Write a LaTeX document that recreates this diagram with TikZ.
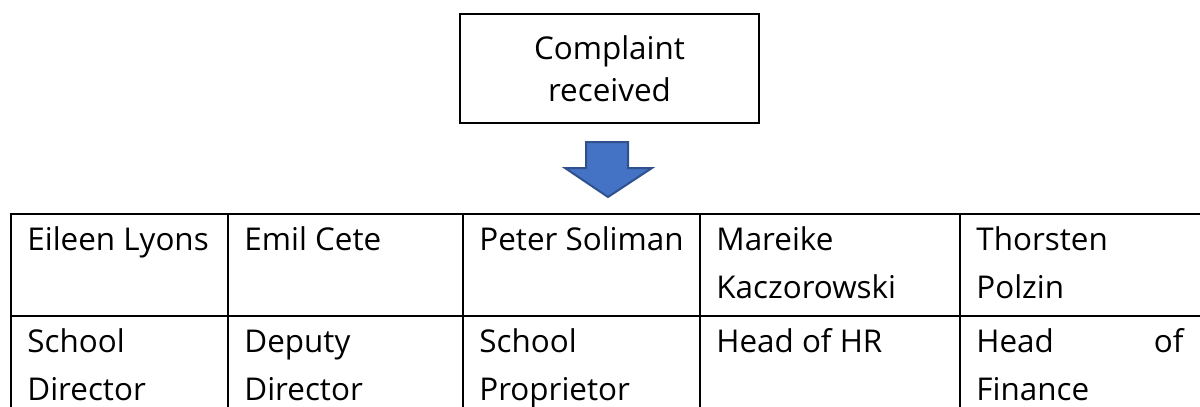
\documentclass[tikz,border=0pt]{standalone}
\usepackage{fontspec}
\setmainfont{Open Sans}
\usetikzlibrary{positioning}
\definecolor{arrowblue}{HTML}{4472C4}
\definecolor{arrowedge}{HTML}{2F528F}
\begin{document}
\begin{tikzpicture}[x=0.5pt, y=-0.5pt, font=\fontsize{15.7}{24}\selectfont]
  \tikzset{
    rulebox/.style={draw, line width=1.2pt},
    cellnode/.style={anchor=base west, inner sep=0pt, align=left},
    blockarrow/.style={draw=arrowedge, fill=arrowblue, line width=1pt, line join=miter},
  }
  \useasboundingbox (0,0) rectangle (1200,407);
  \clip (0,0) rectangle (1200,407);
  % complaint box
  \node[rulebox, minimum width=149.5pt, minimum height=54.5pt, align=center,
        font=\fontsize{15.7}{21}\selectfont] (complaint) at (609.5,68.5) {Complaint\\received};
  % block arrow
  \draw[blockarrow] (586,142) -- (628,142) -- (628,168) -- (652,168) -- (608,197)
    -- (565,168) -- (586,168) -- cycle;
  % table rules
  \draw[rulebox] (11,214) rectangle (1210,430);
  \draw[rulebox] (11,316) -- (1210,316);
  \foreach \x in {228,463,700,960}
    \draw[rulebox] (\x,214) -- (\x,430);
  % names (base = last line)
  \node[cellnode] (lyons) at (27,250) {Eileen Lyons};
  \node[cellnode] (cete) at (244,250) {Emil Cete};
  \node[cellnode] (soliman) at (479,250) {Peter Soliman};
  \node[cellnode] (kaczorowski) at (716,298) {Mareike\\Kaczorowski};
  \node[cellnode] (polzin) at (976,298) {Thorsten\\Polzin};
  % roles
  \node[cellnode] (director) at (27,400) {School\\Director};
  \node[cellnode] (deputy) at (244,400) {Deputy\\Director};
  \node[cellnode] (proprietor) at (479,400) {School\\Proprietor};
  \node[cellnode] (hr) at (716,352) {Head of HR};
  \node[cellnode, text width=103.5pt] (finance) at (976,352) {Head\hfill of\\Finance};
\end{tikzpicture}
\end{document}
